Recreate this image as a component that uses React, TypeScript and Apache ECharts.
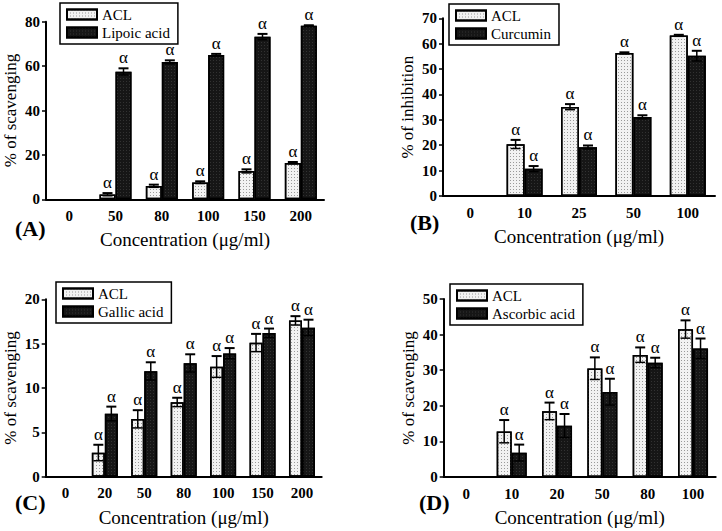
import React, { useEffect, useRef } from "react";
import * as echarts from "echarts";

// Panel A
const catsA = ["0", "50", "80", "100", "150", "200"];
const aclA = [null, 2.2, 6.0, 7.6, 12.7, 16.4];
const aclErrA = [null, 0.6, 0.6, 0.5, 0.8, 0.4];
const lipoicA = [null, 57.5, 61.8, 65.0, 73.2, 78.2];
const lipoicErrA = [null, 1.5, 0.8, 0.5, 1.3, 0.2];

// Panel B
const catsB = ["0", "10", "25", "50", "100"];
const aclB = [null, 20.4, 35.1, 56.3, 63.2];
const aclErrB = [null, 1.7, 1.1, 0.3, 0.3];
const curcuminB = [null, 10.7, 19.2, 31.1, 55.2];
const curcuminErrB = [null, 1.1, 0.7, 0.7, 2.0];

// Panel C
const catsC = ["0", "20", "50", "80", "100", "150", "200"];
const aclC = [null, 2.7, 6.5, 8.4, 12.4, 15.1, 17.6];
const aclErrC = [null, 0.9, 1.0, 0.5, 1.2, 1.0, 0.5];
const gallicC = [null, 7.1, 11.9, 12.8, 13.9, 16.2, 16.8];
const gallicErrC = [null, 0.8, 1.0, 1.0, 0.6, 0.5, 0.9];

// Panel D
const catsD = ["0", "10", "20", "50", "80", "100"];
const aclD = [null, 12.8, 18.5, 30.5, 34.3, 41.5];
const aclErrD = [null, 3.2, 2.4, 3.1, 2.1, 2.5];
const ascorbicD = [null, 6.8, 14.4, 23.9, 32.1, 36.1];
const ascorbicErrD = [null, 2.3, 3.3, 3.7, 1.4, 2.8];

const FONT = "'Liberation Serif', 'Times New Roman', serif";

const lightStyle = {
  color: "#f2f2f2",
  borderColor: "#000",
  borderWidth: 1.5,
  decal: {
    symbol: "rect",
    symbolSize: 1,
    color: "#9a9a9a",
    dashArrayX: [1, 2],
    dashArrayY: [1, 2],
  },
};
const darkStyle = {
  color: "#161616",
  borderColor: "#000",
  borderWidth: 1.5,
  decal: {
    symbol: "rect",
    symbolSize: 1,
    color: "rgba(255,255,255,0.12)",
    dashArrayX: [1, 2],
    dashArrayY: [1, 2],
  },
};

function errData(vals: (number | null)[], errs: (number | null)[]) {
  const out: number[][] = [];
  vals.forEach((v, i) => {
    if (v != null && errs[i] != null) out.push([i, v, errs[i] as number]);
  });
  return out;
}

function errRender(sign: number, bw: number) {
  return (params: any, api: any) => {
    const x = api.value(0);
    const v = api.value(1);
    const e = api.value(2);
    const c = api.coord([x, v]);
    const hi = api.coord([x, v + e]);
    const lo = api.coord([x, v - e]);
    const cx = c[0] + (sign * bw) / 2;
    const cap = 5;
    const st = { stroke: "#000", lineWidth: 1.5 };
    return {
      type: "group",
      children: [
        { type: "line", shape: { x1: cx, y1: hi[1], x2: cx, y2: lo[1] }, style: st },
        { type: "line", shape: { x1: cx - cap, y1: hi[1], x2: cx + cap, y2: hi[1] }, style: { stroke: "#000", lineWidth: 2 } },
        { type: "line", shape: { x1: cx - cap, y1: lo[1], x2: cx + cap, y2: lo[1] }, style: st },
        {
          type: "text",
          x: cx,
          y: hi[1] - 2,
          style: {
            text: "α",
            fill: "#000",
            font: `17px ${FONT}`,
            align: "center",
            verticalAlign: "bottom",
          },
        },
      ],
    };
  };
}

type Panel = {
  cats: string[];
  acl: (number | null)[];
  aclErr: (number | null)[];
  other: (number | null)[];
  otherErr: (number | null)[];
  otherName: string;
  yName: string;
  max: number;
  interval: number;
  grid: { left: number; top: number; width: number; height: number };
  bw: number;
  legend: { left: number; top: number };
  tag: string;
  tagPos: [number, number];
};

const panels: Panel[] = [
  {
    cats: catsA, acl: aclA, aclErr: aclErrA, other: lipoicA, otherErr: lipoicErrA,
    otherName: "Lipoic acid", yName: "% of scavenging", max: 80, interval: 20,
    grid: { left: 46, top: 21.7, width: 278, height: 177.6 }, bw: 16,
    legend: { left: 60, top: 3 }, tag: "(A)", tagPos: [15, 229],
  },
  {
    cats: catsB, acl: aclB, aclErr: aclErrB, other: curcuminB, otherErr: curcuminErrB,
    otherName: "Curcumin", yName: "% of inhibition", max: 70, interval: 10,
    grid: { left: 443, top: 18.3, width: 272, height: 177.7 }, bw: 18,
    legend: { left: 449, top: 4 }, tag: "(B)", tagPos: [410, 223],
  },
  {
    cats: catsC, acl: aclC, aclErr: aclErrC, other: gallicC, otherErr: gallicErrC,
    otherName: "Gallic acid", yName: "% of scavenging", max: 20, interval: 5,
    grid: { left: 45.7, top: 299.3, width: 276, height: 177.4 }, bw: 13,
    legend: { left: 56, top: 282 }, tag: "(C)", tagPos: [15, 503],
  },
  {
    cats: catsD, acl: aclD, aclErr: aclErrD, other: ascorbicD, otherErr: ascorbicErrD,
    otherName: "Ascorbic acid", yName: "% of scavenging", max: 50, interval: 10,
    grid: { left: 443.7, top: 299, width: 272, height: 178 }, bw: 15,
    legend: { left: 450, top: 284 }, tag: "(D)", tagPos: [419, 503],
  },
];

export default function App() {
  const ref = useRef<HTMLDivElement>(null);
  useEffect(() => {
    document.body.style.margin = "0";
    const chart = echarts.init(ref.current!, undefined, { renderer: "svg" });
    const grid: any[] = [];
    const xAxis: any[] = [];
    const yAxis: any[] = [];
    const series: any[] = [];
    const legend: any[] = [];
    const graphic: any[] = [];
    panels.forEach((p, i) => {
      grid.push({ ...p.grid, containLabel: false });
      xAxis.push({
        type: "category",
        gridIndex: i,
        data: p.cats,
        boundaryGap: true,
        axisLine: { lineStyle: { color: "#000", width: 2 } },
        axisTick: { show: false },
        axisLabel: { color: "#000", fontFamily: FONT, fontWeight: "bold", fontSize: 15, margin: 9 },
        name: "Concentration (μg/ml)",
        nameLocation: "middle",
        nameGap: 31,
        nameTextStyle: { color: "#000", fontFamily: FONT, fontSize: 19 },
      });
      yAxis.push({
        type: "value",
        gridIndex: i,
        min: 0,
        max: p.max,
        interval: p.interval,
        axisLine: { show: true, lineStyle: { color: "#000", width: 2 } },
        axisTick: { show: true, length: 4, lineStyle: { color: "#000", width: 1.5 } },
        splitLine: { show: false },
        axisLabel: { color: "#000", fontFamily: FONT, fontWeight: "bold", fontSize: 15, margin: 6 },
        name: p.yName,
        nameLocation: "middle",
        nameGap: 27,
        nameRotate: 90,
        nameTextStyle: { color: "#000", fontFamily: FONT, fontSize: 17 },
      });
      series.push({
        type: "bar",
        name: "ACL",
        xAxisIndex: i,
        yAxisIndex: i,
        data: p.acl,
        barWidth: p.bw,
        barGap: "0%",
        itemStyle: lightStyle,
        z: 2,
      });
      series.push({
        type: "bar",
        name: p.otherName,
        xAxisIndex: i,
        yAxisIndex: i,
        data: p.other,
        barWidth: p.bw,
        barGap: "0%",
        itemStyle: darkStyle,
        z: 2,
      });
      series.push({
        type: "custom",
        xAxisIndex: i,
        yAxisIndex: i,
        data: errData(p.acl, p.aclErr),
        renderItem: errRender(-1, p.bw),
        z: 5,
      });
      series.push({
        type: "custom",
        xAxisIndex: i,
        yAxisIndex: i,
        data: errData(p.other, p.otherErr),
        renderItem: errRender(1, p.bw),
        z: 5,
      });
      legend.push({
        left: p.legend.left,
        top: p.legend.top,
        orient: "vertical",
        data: ["ACL", p.otherName],
        icon: "rect",
        itemWidth: 30,
        itemHeight: 10,
        itemGap: 3,
        padding: [4, 8, 4, 6],
        borderColor: "#000",
        borderWidth: 1.5,
        borderRadius: 0,
        selectedMode: false,
        textStyle: { color: "#000", fontFamily: FONT, fontSize: 15 },
      });
      graphic.push({
        type: "text",
        left: p.tagPos[0],
        top: p.tagPos[1] - 12,
        style: { text: p.tag, fill: "#000", font: `bold 22px ${FONT}` },
      });
    });
    chart.setOption({
      animation: false,
      backgroundColor: "#fff",
      grid,
      xAxis,
      yAxis,
      series,
      legend,
      graphic,
    });
    return () => chart.dispose();
  }, []);
  return (
    <div
      ref={ref}
      style={{ position: "fixed", left: 0, top: 0, width: 722, height: 531 }}
    />
  );
}
